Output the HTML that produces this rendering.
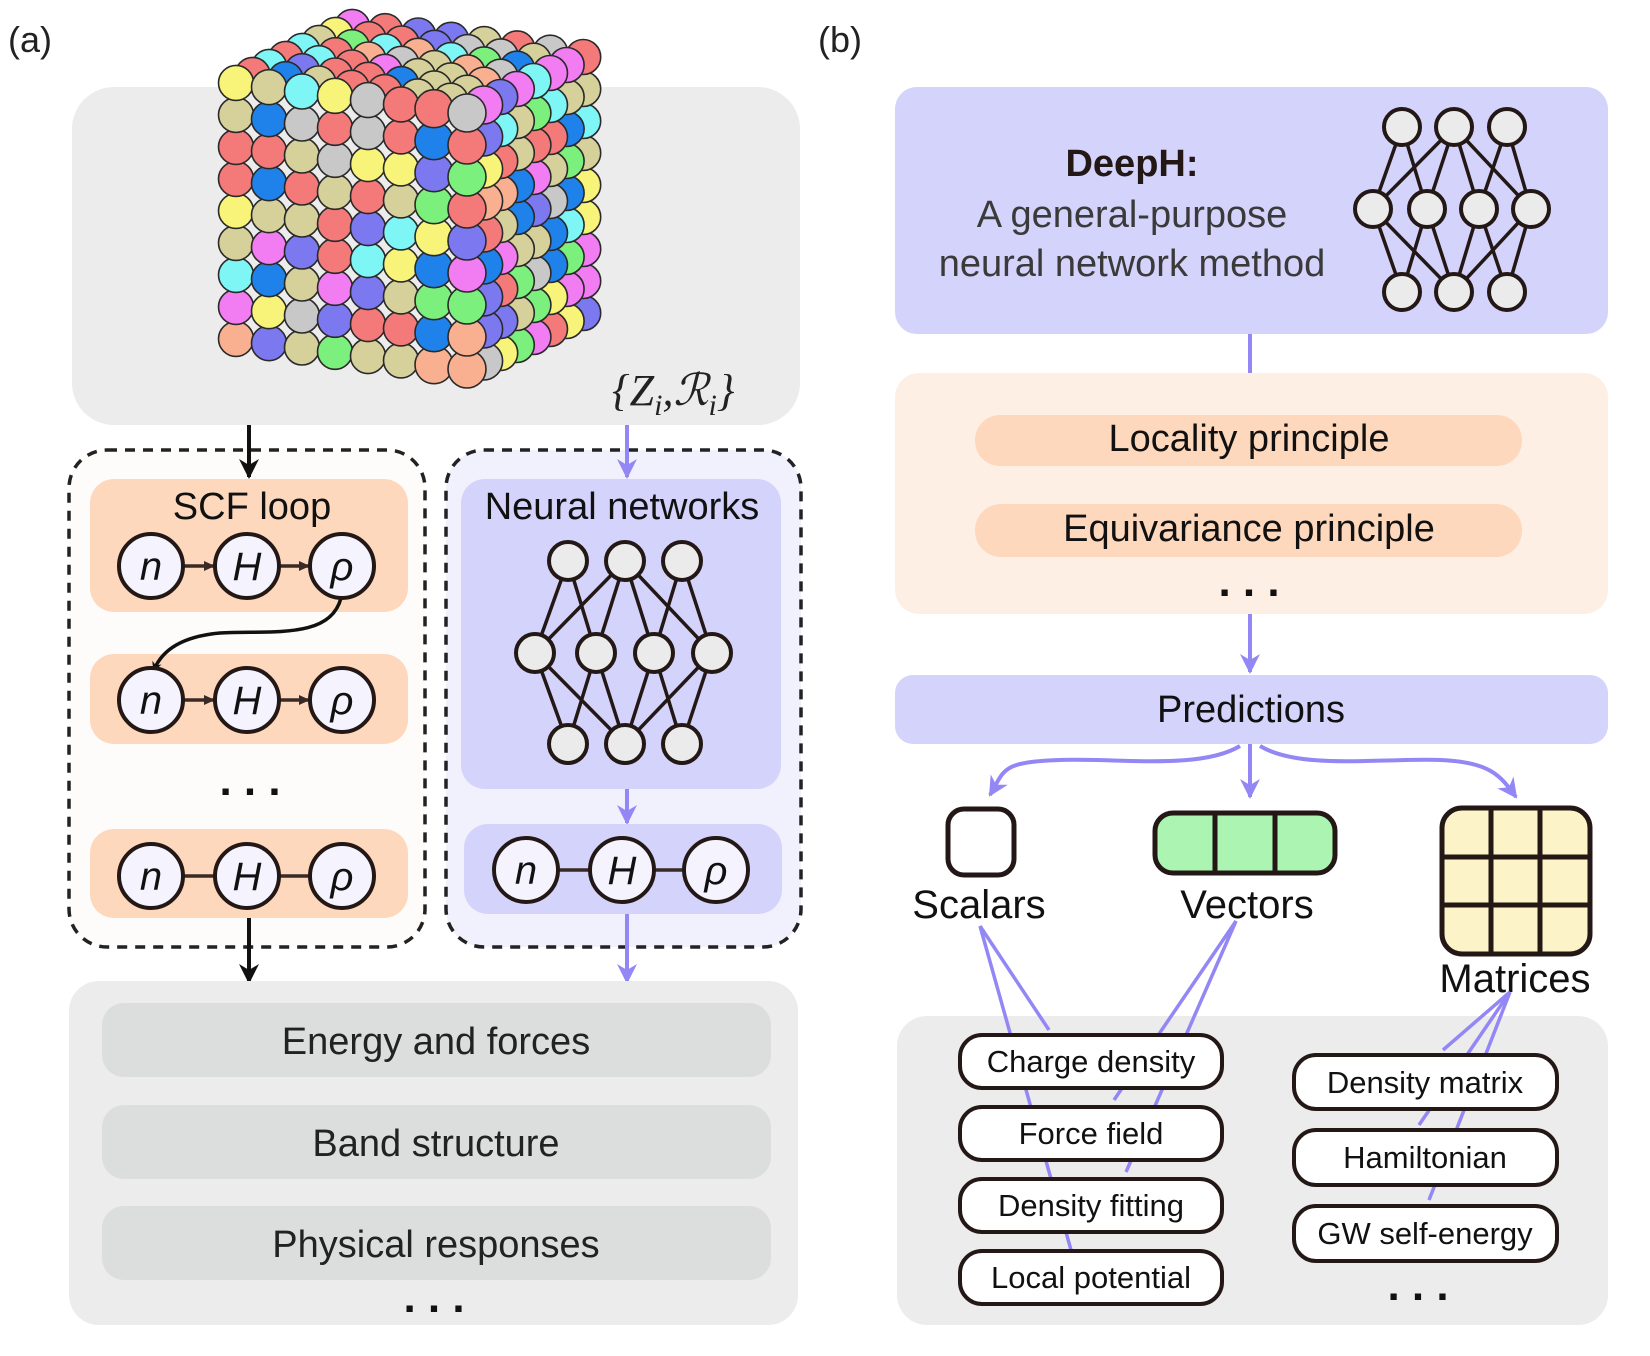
<!DOCTYPE html>
<html><head><meta charset="utf-8"><style>
html,body{margin:0;padding:0;background:#fff;}
svg{display:block;font-family:"Liberation Sans",Arial,sans-serif;}
</style></head><body>
<svg id="s" width="1650" height="1356" viewBox="0 0 1650 1356" xmlns="http://www.w3.org/2000/svg">
<defs>
<marker id="ab" markerWidth="10" markerHeight="10" refX="8" refY="5" orient="auto" markerUnits="userSpaceOnUse"><path d="M0,0 L10,5 L0,10 L3,5Z" fill="#111"/></marker>
<marker id="ap" markerWidth="22" markerHeight="22" refX="18" refY="11" orient="auto" markerUnits="userSpaceOnUse"><path d="M0,1 L20,11 L0,21 L6,11Z" fill="#9387f5"/></marker>
<marker id="apk" markerWidth="22" markerHeight="22" refX="18" refY="11" orient="auto" markerUnits="userSpaceOnUse"><path d="M0,1 L20,11 L0,21 L6,11Z" fill="#111"/></marker>
<marker id="sm" markerWidth="12" markerHeight="12" refX="10" refY="6" orient="auto" markerUnits="userSpaceOnUse"><path d="M0,1 L11,6 L0,11Z" fill="#3a2a26"/></marker>
</defs>
<text x="8" y="52" font-size="36" fill="#222">(a)</text>
<text x="818" y="52" font-size="36" fill="#222">(b)</text>
<rect x="72" y="87" width="728" height="338" rx="42" fill="#ececec"/>
<g id="cube"></g>
<text x="612" y="405" font-size="44" font-family="Liberation Serif,serif" font-style="italic" fill="#222">{<tspan>Z</tspan><tspan font-size="30" dy="10">i</tspan><tspan dy="-10">,ℛ</tspan><tspan font-size="30" dy="10">i</tspan><tspan dy="-10">}</tspan></text>
<rect x="69" y="450" width="356" height="497" rx="38" fill="#fdfcfa" stroke="#222" stroke-width="3.5" stroke-dasharray="10 8"/>
<rect x="446" y="450" width="355" height="497" rx="38" fill="#f1f0fd" stroke="#222" stroke-width="3.5" stroke-dasharray="10 8"/>
<line x1="249" y1="425" x2="249" y2="477" stroke="#111" stroke-width="4" marker-end="url(#apk)"/>
<line x1="627" y1="425" x2="627" y2="477" stroke="#9387f5" stroke-width="4" marker-end="url(#ap)"/>
<rect x="90" y="479" width="318" height="133" rx="24" fill="#fed8bd"/>
<text x="252" y="519" font-size="38" text-anchor="middle" fill="#111">SCF loop</text>
<rect x="90" y="654" width="318" height="90" rx="24" fill="#fed8bd"/>
<rect x="90" y="829" width="318" height="89" rx="24" fill="#fed8bd"/>
<path d="M341,598 C330,640 270,630 220,633 C175,637 160,655 154,670" fill="none" stroke="#111" stroke-width="3.5" marker-end="url(#ab)"/>
<text x="250" y="795" font-size="44" font-weight="bold" text-anchor="middle" fill="#111">. . .</text>
<rect x="461" y="479" width="320" height="310" rx="24" fill="#d4d3fb"/>
<text x="622" y="519" font-size="38" text-anchor="middle" fill="#111">Neural networks</text>
<g id="nn1"></g>
<line x1="627" y1="789" x2="627" y2="823" stroke="#9387f5" stroke-width="4" marker-end="url(#ap)"/>
<rect x="464" y="824" width="318" height="90" rx="24" fill="#d4d3fb"/>
<g font-size="40" font-style="italic" text-anchor="middle" fill="#111">
<g id="rows"></g>
</g>
<line x1="249" y1="918" x2="249" y2="982" stroke="#111" stroke-width="4" marker-end="url(#apk)"/>
<line x1="627" y1="914" x2="627" y2="982" stroke="#9387f5" stroke-width="4" marker-end="url(#ap)"/>
<rect x="69" y="981" width="729" height="344" rx="30" fill="#ececec"/>
<rect x="102" y="1003" width="669" height="74" rx="22" fill="#dcdddd"/>
<rect x="102" y="1105" width="669" height="74" rx="22" fill="#dcdddd"/>
<rect x="102" y="1206" width="669" height="74" rx="22" fill="#dcdddd"/>
<g font-size="38" text-anchor="middle" fill="#222">
<text x="436" y="1054">Energy and forces</text>
<text x="436" y="1156">Band structure</text>
<text x="436" y="1257">Physical responses</text>
</g>
<text x="434" y="1312" font-size="44" font-weight="bold" text-anchor="middle" fill="#111">. . .</text>
<rect x="895" y="87" width="713" height="247" rx="22" fill="#d4d3fb"/>
<text x="1132" y="176" font-size="38" font-weight="bold" text-anchor="middle" fill="#231815">DeepH:</text>
<text x="1132" y="227" font-size="38" text-anchor="middle" fill="#3a3a3a">A general-purpose</text>
<text x="1132" y="276" font-size="38" text-anchor="middle" fill="#3a3a3a">neural network method</text>
<g id="nn2"></g>
<line x1="1250" y1="334" x2="1250" y2="373" stroke="#9387f5" stroke-width="4"/>
<rect x="895" y="373" width="713" height="241" rx="24" fill="#feefe4"/>
<rect x="975" y="415" width="547" height="51" rx="25" fill="#fed8bd"/>
<rect x="975" y="504" width="547" height="53" rx="26" fill="#fed8bd"/>
<text x="1249" y="451" font-size="38" text-anchor="middle" fill="#111">Locality principle</text>
<text x="1249" y="541" font-size="38" text-anchor="middle" fill="#111">Equivariance principle</text>
<text x="1249" y="596" font-size="44" font-weight="bold" text-anchor="middle" fill="#111">. . .</text>
<line x1="1250" y1="614" x2="1250" y2="672" stroke="#9387f5" stroke-width="4" marker-end="url(#ap)"/>
<rect x="895" y="675" width="713" height="69" rx="18" fill="#d4d3fb"/>
<text x="1251" y="722" font-size="38" text-anchor="middle" fill="#111">Predictions</text>
<path d="M1240,746 C1200,770 1120,758 1060,760 C1000,762 1005,770 990,795" fill="none" stroke="#9387f5" stroke-width="4" marker-end="url(#ap)"/>
<path d="M1260,746 C1300,770 1380,758 1440,760 C1490,762 1500,775 1516,797" fill="none" stroke="#9387f5" stroke-width="4" marker-end="url(#ap)"/>
<line x1="1250" y1="744" x2="1250" y2="797" stroke="#9387f5" stroke-width="4" marker-end="url(#ap)"/>
<rect x="948" y="809" width="66" height="66" rx="16" fill="#fff" stroke="#231815" stroke-width="5"/>
<rect x="1155" y="813" width="180" height="60" rx="18" fill="#acf4b2" stroke="#231815" stroke-width="5"/>
<line x1="1215" y1="813" x2="1215" y2="873" stroke="#231815" stroke-width="5"/>
<line x1="1275" y1="813" x2="1275" y2="873" stroke="#231815" stroke-width="5"/>
<rect x="1442" y="808" width="148" height="146" rx="20" fill="#fcf3c8" stroke="#231815" stroke-width="5"/>
<g stroke="#231815" stroke-width="5"><line x1="1491" y1="808" x2="1491" y2="954"/><line x1="1540" y1="808" x2="1540" y2="954"/><line x1="1442" y1="857" x2="1590" y2="857"/><line x1="1442" y1="905" x2="1590" y2="905"/></g>
<g font-size="40" text-anchor="middle" fill="#111">
<text x="979" y="918">Scalars</text><text x="1247" y="918">Vectors</text><text x="1515" y="992">Matrices</text>
</g>
<rect x="897" y="1016" width="711" height="309" rx="30" fill="#ececec"/>
<g stroke="#9387f5" stroke-width="3.5" fill="none">
<line x1="980" y1="926" x2="1071" y2="1250"/>
<line x1="980" y1="926" x2="1049" y2="1030"/>
<line x1="1236" y1="921" x2="1126" y2="1172"/>
<line x1="1236" y1="921" x2="1114" y2="1100"/>
<line x1="1510" y1="992" x2="1429" y2="1200"/>
<line x1="1510" y1="992" x2="1419" y2="1125"/>
<line x1="1510" y1="992" x2="1443" y2="1050"/>
</g>
<g fill="#fff" stroke="#231815" stroke-width="4">
<rect x="960" y="1035" width="262" height="53" rx="22"/>
<rect x="960" y="1107" width="262" height="53" rx="22"/>
<rect x="960" y="1179" width="262" height="53" rx="22"/>
<rect x="960" y="1251" width="262" height="53" rx="22"/>
<rect x="1294" y="1055" width="263" height="54" rx="22"/>
<rect x="1294" y="1130" width="263" height="55" rx="22"/>
<rect x="1294" y="1206" width="263" height="55" rx="22"/>
</g>
<g font-size="31" text-anchor="middle" fill="#111">
<text x="1091" y="1072">Charge density</text>
<text x="1091" y="1144">Force field</text>
<text x="1091" y="1216">Density fitting</text>
<text x="1091" y="1288">Local potential</text>
<text x="1425" y="1093">Density matrix</text>
<text x="1425" y="1168">Hamiltonian</text>
<text x="1425" y="1244">GW self-energy</text>
</g>
<text x="1418" y="1300" font-size="44" font-weight="bold" text-anchor="middle" fill="#111">. . .</text>
</svg>
<script>
var NS="http://www.w3.org/2000/svg";
function el(p,t,a,txt){var e=document.createElementNS(NS,t);for(var k in a)e.setAttribute(k,a[k]);if(txt)e.textContent=txt;p.appendChild(e);return e;}
var rows=document.getElementById('rows');
function row(xs,y,arrow){
  for(var i=0;i<2;i++){
    var a={x1:xs[i]+33,y1:y,x2:xs[i+1]-33,y2:y,stroke:'#3a2a26','stroke-width':3.5};
    if(arrow)a['marker-end']='url(#sm)';
    el(rows,'line',a);
  }
  var L=['n','H','ρ'];
  for(var i=0;i<3;i++){
    el(rows,'ellipse',{cx:xs[i],cy:y,rx:32,ry:32,fill:'#f5f4fe',stroke:'#231815','stroke-width':4});
    el(rows,'text',{x:xs[i],y:y+14},L[i]);
  }
}
row([151,247,342],566,true);row([151,247,342],700,true);row([151,247,342],876,false);row([526,622,716],870,false);
function nn(g,top,mid,bot,yt,ym,yb,r){
  var G=document.getElementById(g);
  var edges=[[0,0],[0,1],[1,0],[1,1],[1,2],[1,3],[2,2],[2,3]];
  edges.forEach(function(e){el(G,'line',{x1:top[e[0]],y1:yt,x2:mid[e[1]],y2:ym,stroke:'#231815','stroke-width':3.5});});
  var e2=[[0,0],[0,1],[1,0],[1,1],[2,1],[2,2],[3,1],[3,2]];
  e2.forEach(function(e){el(G,'line',{x1:mid[e[0]],y1:ym,x2:bot[e[1]],y2:yb,stroke:'#231815','stroke-width':3.5});});
  top.forEach(function(x){el(G,'ellipse',{cx:x,cy:yt,rx:r,ry:r,fill:'#ebebeb',stroke:'#231815','stroke-width':4});});
  mid.forEach(function(x){el(G,'ellipse',{cx:x,cy:ym,rx:r,ry:r,fill:'#ebebeb',stroke:'#231815','stroke-width':4});});
  bot.forEach(function(x){el(G,'ellipse',{cx:x,cy:yb,rx:r,ry:r,fill:'#ebebeb',stroke:'#231815','stroke-width':4});});
}
nn('nn1',[568,625,682],[535,596,654,712],[568,625,682],561,653,744,19);
nn('nn2',[1402,1454,1507],[1373,1427,1479,1531],[1402,1454,1507],127,209,292,18);
var cols=['#c8c8c8','#d6d19a','#f47a7a','#7cf07c','#1e82ea','#7ef6f6','#f27cf2','#f8f47a','#7c78f0','#f8b090','#d6d19a','#f47a7a'];
var seed=7;function rnd(){seed=(seed*16807)%2147483647;return seed/2147483647;}
var C=document.getElementById('cube');var list=[];
var N=7,K=8;
for(var i=0;i<=N;i++)for(var j=0;j<=N;j++)for(var k=0;k<=K;k++){
  if(!(i==0||j==0||k==0))continue;
  var x=467-33*i+16.6*j, y=113-4.3*i-8*j+32*k;
  list.push({x:x,y:y,d:i+j,k:k,c:cols[Math.floor(rnd()*cols.length)]});
}
list.sort(function(a,b){return (b.d-a.d)||(b.k-a.k);});
list.forEach(function(s){el(C,'circle',{cx:s.x.toFixed(1),cy:s.y.toFixed(1),r:s.d<2?19:17.5,fill:s.c,stroke:'#2a2a2a','stroke-width':1.6});});
</script>
</body></html>
